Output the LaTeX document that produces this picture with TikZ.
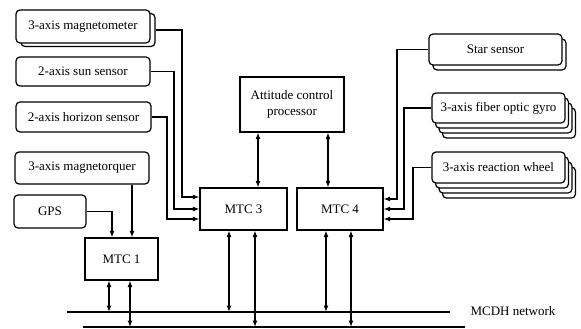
\documentclass[tikz,border=0pt]{standalone}
\usepackage{fontspec}
\setmainfont{Liberation Serif}
\usetikzlibrary{arrows.meta}
\begin{document}
\begin{tikzpicture}[x=1pt,y=-1pt,
  every node/.style={font=\fontsize{13}{16}\selectfont},
  rbox/.style={draw,line width=1.2pt,rounded corners=4pt,fill=white,inner sep=0pt,align=center},
  sbox/.style={draw,line width=1.2pt,fill=white,inner sep=0pt,align=center},
  conn/.style={line width=1.2pt},
  arr/.style={conn,-{Latex[length=6.5pt,width=5pt]}},
  darr/.style={conn,{Latex[length=6.5pt,width=5pt]}-{Latex[length=6.5pt,width=5pt]}},
  net/.style={line width=1.5pt}]
\useasboundingbox (0,0) rectangle (581,329);
% left sensors
\node[rbox,minimum width=134pt,minimum height=33pt] (magb) at (88,30) {};
\node[rbox,minimum width=134pt,minimum height=33pt] (mag) at (83,26.5) {3-axis magnetometer};
\node[rbox,minimum width=134pt,minimum height=29pt] (sun) at (83,71.5) {2-axis sun sensor};
\node[rbox,minimum width=135pt,minimum height=30pt] (hor) at (83.5,117) {2-axis horizon sensor};
\node[rbox,minimum width=134pt,minimum height=32pt] (mtq) at (82,168) {3-axis magnetorquer};
\node[rbox,minimum width=72pt,minimum height=33pt] (gps) at (50,211.5) {GPS};
% right actuators/sensors
\node[rbox,minimum width=133pt,minimum height=31pt] (starb) at (499.5,54.5) {};
\node[rbox,minimum width=133pt,minimum height=31pt] (star) at (495.5,49.5) {Star sensor};
\node[rbox,minimum width=133pt,minimum height=30pt] (gyr3) at (509,123) {};
\node[rbox,minimum width=133pt,minimum height=30pt] (gyr2) at (505.5,118) {};
\node[rbox,minimum width=133pt,minimum height=30pt] (gyr1) at (502,113) {};
\node[rbox,minimum width=133pt,minimum height=30pt] (gyr) at (498.5,108) {3-axis fiber optic gyro};
\node[rbox,minimum width=133pt,minimum height=31pt] (rw3) at (509,182.5) {};
\node[rbox,minimum width=133pt,minimum height=31pt] (rw2) at (505.5,177.5) {};
\node[rbox,minimum width=133pt,minimum height=31pt] (rw1) at (502,172.5) {};
\node[rbox,minimum width=133pt,minimum height=31pt] (rw) at (498.5,167.5) {3-axis reaction wheel};
% processors
\node[sbox,minimum width=104pt,minimum height=55pt] (acp) at (292,104.5) {Attitude control\\processor};
\node[sbox,minimum width=87pt,minimum height=42pt] (mtc3) at (243.5,209) {MTC 3};
\node[sbox,minimum width=86pt,minimum height=42pt] (mtc4) at (340,209) {MTC 4};
\node[sbox,minimum width=73pt,minimum height=42pt] (mtc1) at (121.5,259) {MTC 1};
% network
\coordinate (n1a) at (67,312);
\coordinate (n1b) at (450,312);
\coordinate (n2a) at (83,327);
\coordinate (n2b) at (465,327);
\draw[net] (n1a) -- (n1b);
\draw[net] (n2a) -- (n2b);
\node[anchor=west] (mcdh) at (467,311) {MCDH network};
% left sensor connections to MTC3
\draw[arr] (magb.east) -- (182,30) -- (182,197) -- ([yshift=12pt]mtc3.west);
\draw[arr] (sun.east) -- (174,71.5) -- (174,209) -- (mtc3.west);
\draw[arr] (hor.east) -- (167,117) -- (167,219) -- ([yshift=-10pt]mtc3.west);
% right connections to MTC4
\draw[arr] (star.west) -- (397,49.5) -- (397,199) -- ([yshift=10pt]mtc4.east);
\draw[arr] (gyr.west) -- (404,108) -- (404,209) -- (mtc4.east);
\draw[arr] (rw.west) -- (413,167.5) -- (413,219) -- ([yshift=-10pt]mtc4.east);
% MTC1 inputs
\draw[arr] (mtq.south -| 132,0) -- (mtc1.north -| 132,0);
\draw[arr] (gps.east) -- (112,211.5) -- (mtc1.north -| 112,0);
% ACP to MTCs
\draw[darr] (acp.south -| 258,0) -- (mtc3.north -| 258,0);
\draw[darr] (acp.south -| 328,0) -- (mtc4.north -| 328,0);
% to network
\draw[darr] (mtc1.south -| 109,0) -- (n1a -| 109,0);
\draw[darr] (mtc1.south -| 130,0) -- (n2a -| 130,0);
\draw[darr] (mtc3.south -| 229,0) -- (n1a -| 229,0);
\draw[darr] (mtc3.south -| 255,0) -- (n2a -| 255,0);
\draw[darr] (mtc4.south -| 326,0) -- (n1a -| 326,0);
\draw[darr] (mtc4.south -| 351,0) -- (n2a -| 351,0);
\end{tikzpicture}
\end{document}
